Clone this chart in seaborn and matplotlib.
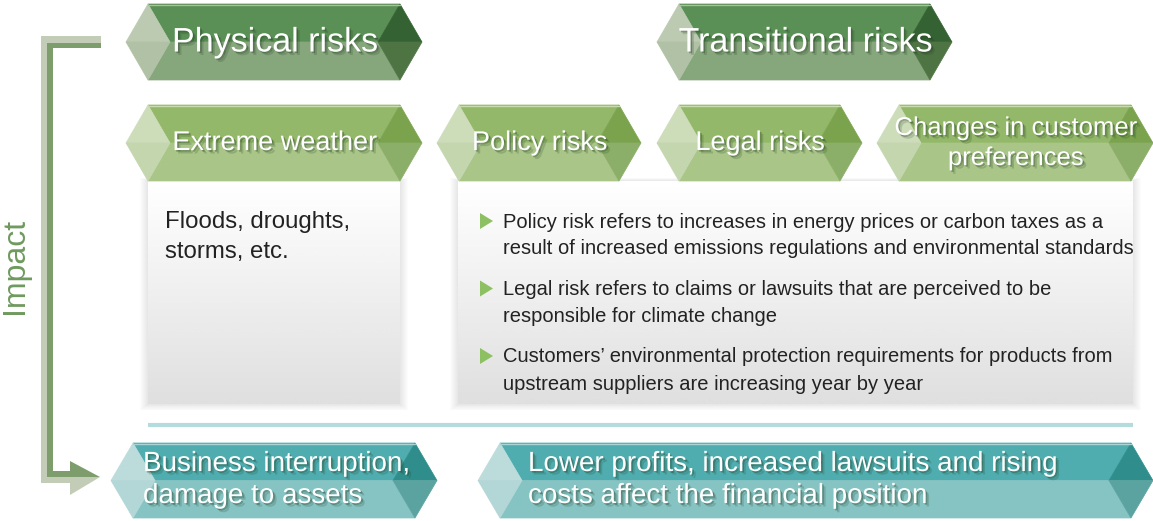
import numpy as np
import seaborn as sns
from matplotlib import pyplot as plt
from matplotlib.patches import Polygon, Rectangle
import matplotlib.patheffects as pe

sns.set_style("white")
plt.rcParams['font.family'] = ['Liberation Sans', 'DejaVu Sans']

# text content
top_labels = ["Physical risks", "Transitional risks"]
mid_labels = ["Extreme weather", "Policy risks", "Legal risks", "Changes in customer\npreferences"]
bottom_labels = ["Business interruption,\ndamage to assets",
                 "Lower profits, increased lawsuits and rising\ncosts affect the financial position"]
physical_text = ["Floods, droughts,", "storms, etc."]
transition_bullets = [
    ["Policy risk refers to increases in energy prices or carbon taxes as a",
     "result of increased emissions regulations and environmental standards"],
    ["Legal risk refers to claims or lawsuits that are perceived to be",
     "responsible for climate change"],
    ["Customers\u2019 environmental protection requirements for products from",
     "upstream suppliers are increasing year by year"],
]
axis_label = "Impact"

# layout (pixel coordinates, y down)
top_x = [(126, 422), (657, 952)]
mid_x = [(126, 422), (437, 641), (657, 862), (877, 1153)]
mid_size = [19.5, 19.5, 19.5, 18.5]
bottom_x = [(111, 437), (478, 1153)]
bottom_text_x = [143, 528]

dark_green = dict(top="#5a8f55", bot="#86a67c", left_t="#bccab2", left_b="#b0c1a5",
                  right_t="#356232", right_b="#4f7444", edge="#a8c0a0")
light_green = dict(top="#93b869", bot="#a9c588", left_t="#cddcb9", left_b="#c4d6ae",
                   right_t="#7ba34e", right_b="#8bae68", edge="#c8dcb0")
teal = dict(top="#4fadb0", bot="#86c3c3", left_t="#bcdcdc", left_b="#b3d6d6",
            right_t="#2f8e8c", right_b="#5ba3a1", edge="#a8d4d4")

fig = plt.figure(figsize=(11.53, 5.21), dpi=100)
ax = fig.add_axes([0, 0, 1, 1])
ax.set_xlim(0, 1153)
ax.set_ylim(521, 0)
ax.axis("off")

text_fx = [pe.SimplePatchShadow(offset=(2.5, -2.5), shadow_rgbFace="#1e3a1e", alpha=0.18),
           pe.SimplePatchShadow(offset=(1.2, -1.2), shadow_rgbFace="#1e3a1e", alpha=0.35),
           pe.Normal()]


def hexagon(x0, x1, y0, y1, c, d=22, z=3):
    ym = (y0 + y1) / 2
    polys = [
        ([(x0 + d, y0), (x1 - d, y0), (x1 - 2 * d, ym), (x0 + 2 * d, ym)], c["top"]),
        ([(x0 + 2 * d, ym), (x1 - 2 * d, ym), (x1 - d, y1), (x0 + d, y1)], c["bot"]),
        ([(x0, ym), (x0 + d, y0), (x0 + 2 * d, ym)], c["left_t"]),
        ([(x0, ym), (x0 + 2 * d, ym), (x0 + d, y1)], c["left_b"]),
        ([(x1 - d, y0), (x1, ym), (x1 - 2 * d, ym)], c["right_t"]),
        ([(x1 - 2 * d, ym), (x1, ym), (x1 - d, y1)], c["right_b"]),
    ]
    for pts, col in polys:
        ax.add_patch(Polygon(pts, closed=True, facecolor=col, edgecolor=col, lw=0.5, zorder=z))
    ax.plot([x0 + d, x1 - d], [y0 + 0.5, y0 + 0.5], color=c["edge"], lw=1, zorder=z + 0.1)


def white_box(x0, x1, y0, y1):
    for i in range(1, 9):
        ax.add_patch(Rectangle((x0 - i, y0 - i * 0.4), x1 - x0 + 2 * i, y1 - y0 + i * 1.2,
                               facecolor="#000000", edgecolor="none", alpha=0.012, zorder=1))
    grad = np.linspace(1.0, 0.875, 100).reshape(-1, 1)
    ax.imshow(grad, cmap="gray", vmin=0, vmax=1, extent=(x0, x1, y1, y0),
              aspect="auto", zorder=2, interpolation="bicubic")


white_box(148, 400, 181, 404)
white_box(458, 1133, 181, 404)
ax.set_xlim(0, 1153)
ax.set_ylim(521, 0)

for (x0, x1), lab in zip(top_x, top_labels):
    hexagon(x0, x1, 4, 80, dark_green)
    ax.text((x0 + x1) / 2 + 1, 43, lab, color="white", fontsize=24.5, ha="center", va="center",
            zorder=6, path_effects=text_fx)

for (x0, x1), lab, fs in zip(mid_x, mid_labels, mid_size):
    hexagon(x0, x1, 105, 181, light_green)
    ax.text((x0 + x1) / 2 + 1, 143, lab, color="white", fontsize=fs, ha="center", va="center",
            zorder=6, linespacing=1.32, path_effects=text_fx)

for (x0, x1), lab, tx in zip(bottom_x, bottom_labels, bottom_text_x):
    hexagon(x0, x1, 443, 518, teal)
    ax.text(tx, 480, lab, color="white", fontsize=20, ha="left", va="center",
            zorder=6, linespacing=1.3, path_effects=text_fx)

# separator line
ax.plot([148, 1133], [425, 425], color="#b5dcdc", lw=3, solid_capstyle="butt", zorder=2)

# physical risks text
for i, line in enumerate(physical_text):
    ax.text(165, 222 + i * 30, line, color="#222222", fontsize=17.3, ha="left", va="center", zorder=4)

# transition bullets
for j, lines in enumerate(transition_bullets):
    yb = 221 + j * 67.5
    ax.add_patch(Polygon([(480, yb - 8), (493, yb), (480, yb + 8)], closed=True,
                         facecolor="#8cc063", edgecolor="none", zorder=4))
    for i, line in enumerate(lines):
        ax.text(503, yb + 1 + i * 27, line, color="#222222", fontsize=14.5, ha="left", va="center", zorder=4)

# impact bracket
light, dark = "#c3ccb6", "#7d9e6c"
ax.add_patch(Rectangle((41, 36), 60, 6.5, facecolor=light, edgecolor="none", zorder=3))
ax.add_patch(Rectangle((47, 42.5), 54, 5.5, facecolor=dark, edgecolor="none", zorder=3))
ax.add_patch(Rectangle((41, 36), 6, 447, facecolor=light, edgecolor="none", zorder=3))
ax.add_patch(Rectangle((47, 42.5), 6, 434.5, facecolor=dark, edgecolor="none", zorder=3))
ax.add_patch(Rectangle((47, 471), 23, 6, facecolor=dark, edgecolor="none", zorder=3))
ax.add_patch(Rectangle((41, 477), 29, 6, facecolor=light, edgecolor="none", zorder=3))
ax.add_patch(Polygon([(70, 461), (100, 477), (70, 477)], closed=True, facecolor=dark, edgecolor="none", zorder=3))
ax.add_patch(Polygon([(70, 477), (100, 477), (70, 495)], closed=True, facecolor=light, edgecolor="none", zorder=3))
ax.text(15, 266, axis_label, color="#6f9a5e", fontsize=23, rotation=90, ha="center", va="center")

fig.savefig("out.png", dpi=100)
